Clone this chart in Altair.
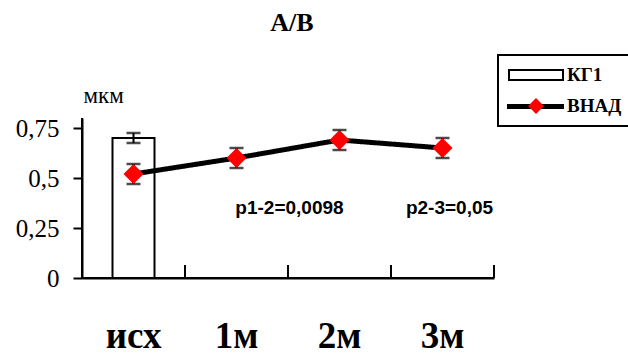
import altair as alt
import pandas as pd

# ---- data ----
categories = ["исх", "1м", "2м", "3м"]
series_names = ["КГ1", "ВНАД"]
kg1_category = ["исх"]
kg1_values = [0.70]
kg1_errors = [0.025]
vnad_values = [0.52, 0.60, 0.69, 0.65]
vnad_errors = [0.05, 0.05, 0.05, 0.05]
y_ticks = [0, 0.25, 0.5, 0.75]
p12_label = ["p1-2=0,0098"]
p12_category = ["2м"]
p12_y = [0.35]
p23_label = ["p2-3=0,05"]
p23_category = ["3м"]
p23_y = [0.35]
title_text = "A/B"
unit_text = "мкм"

kg1 = pd.DataFrame({
    "cat": kg1_category,
    "value": kg1_values,
    "lo": [v - e for v, e in zip(kg1_values, kg1_errors)],
    "hi": [v + e for v, e in zip(kg1_values, kg1_errors)],
    "series": series_names[0],
})
vnad = pd.DataFrame({
    "cat": categories,
    "value": vnad_values,
    "lo": [v - e for v, e in zip(vnad_values, vnad_errors)],
    "hi": [v + e for v, e in zip(vnad_values, vnad_errors)],
    "series": series_names[1],
})
cats = pd.DataFrame({"cat": categories})
frame = pd.DataFrame({"cat": categories[:1]})
p12 = pd.DataFrame({"cat": p12_category, "value": p12_y, "label": p12_label})
p23 = pd.DataFrame({"cat": p23_category, "value": p23_y, "label": p23_label})

SERIF = "Liberation Serif"
SANS = "Liberation Sans"

xscale = alt.Scale(domain=categories, paddingInner=0, paddingOuter=0)
yscale = alt.Scale(domain=[0, 0.8], nice=False)

RECT_PATH = "M-2.7,-0.5H2.7V0.5H-2.7Z"
DIAMOND_PATH = "M0,-0.65L0.65,0L0,0.65L-0.65,0Z"

y_axis = alt.Axis(
    values=y_ticks, labelExpr="replace(format(datum.value, '.2~f'), '.', ',')",
    labelFont=SERIF, labelFontSize=25, labelColor="black", tickSize=9,
    tickWidth=2, tickColor="black", tickOpacity=1, domain=True, domainColor="black",
    domainWidth=2, domainOpacity=1,
    labelPadding=14, grid=False, title=unit_text, titleAngle=0, titleX=1,
    titleY=-23, titleAlign="left", titleBaseline="middle", titleFont=SERIF,
    titleFontSize=23, titleFontWeight="normal", titleColor="black")

x_axis = alt.Axis(
    title=None, labelFont=SERIF, labelFontSize=37, labelFontWeight="bold",
    labelColor="black", labelAngle=0, ticks=False, domain=True, domainColor="black",
    domainWidth=2, domainOpacity=1, labelPadding=69, labelBaseline="alphabetic", grid=False)

legend_a = alt.Legend(
    orient="none", legendX=416, legendY=-63, title=None,
    symbolSize=400, padding=9, rowPadding=10,
    strokeColor="black", fillColor="transparent",
    labelFont=SERIF, labelFontSize=19, labelFontWeight="bold", labelColor="black",
    symbolOffset=18, labelOffset=20, symbolStrokeWidth=2, labelLimit=1000,
    zindex=2,
)
fill_enc = alt.Fill("series:N", scale=alt.Scale(domain=series_names, range=["white", "red"]), legend=legend_a)
stroke_enc = alt.Stroke("series:N", scale=alt.Scale(domain=series_names, range=["black", "red"]), legend=legend_a)
shape_enc = alt.Shape("series:N", scale=alt.Scale(domain=series_names, range=[RECT_PATH, DIAMOND_PATH]), legend=legend_a)

x_enc = alt.X("cat:N", scale=xscale, sort=categories, axis=x_axis)
y_val = alt.Y("value:Q", scale=yscale, axis=y_axis)
y_lo = alt.Y("lo:Q", scale=yscale, axis=y_axis)
y_hi = alt.Y("hi:Q", scale=yscale, axis=y_axis)

# axis lines of the plot frame (left and bottom edges)
y_line = alt.Chart(frame).mark_rule(color="black", strokeWidth=2).encode(
    x=alt.value(0), y=alt.value(0), y2=alt.value("height"))
x_line = alt.Chart(frame).mark_rule(color="black", strokeWidth=2).encode(
    y=alt.value("height"), x=alt.value(0), x2=alt.value("width"))

bar = alt.Chart(kg1).mark_bar(size=42, strokeWidth=2).encode(
    x=x_enc, y=y_val, fill=fill_enc, stroke=stroke_enc)

# inner tick marks on the category boundaries of the x axis
xticks = alt.Chart(cats).mark_rule(color="black", strokeWidth=2).encode(
    x=alt.X("cat:N", scale=xscale, sort=categories, axis=x_axis, bandPosition=1),
    y=alt.value("height"),
    y2=alt.value(alt.ExprRef(expr="height - 13")),
)

kg1_rule = alt.Chart(kg1).mark_rule(color="black", strokeWidth=2).encode(
    x=x_enc, y=y_lo, y2="hi:Q")
kg1_lo = alt.Chart(kg1).mark_tick(color="black", size=14, thickness=2.5).encode(
    x=x_enc, y=y_lo)
kg1_hi = alt.Chart(kg1).mark_tick(color="black", size=14, thickness=2.5).encode(
    x=x_enc, y=y_hi)

line = alt.Chart(vnad).mark_line(color="black", strokeWidth=5).encode(
    x=x_enc, y=y_val,
    strokeDash=alt.StrokeDash("series:N", scale=alt.Scale(domain=[series_names[1]], range=[[1, 0]]),
                              legend=alt.Legend(orient="none", legendX=425, legendY=-24, title=None,
                                                symbolType="M-2.85,0H2.85", symbolSize=400,
                                                symbolStrokeWidth=5, symbolStrokeColor="black",
                                                labelExpr="''", padding=0, symbolOffset=16, zindex=1)),
)

v_rule = alt.Chart(vnad).mark_rule(color="black", strokeWidth=2).encode(
    x=x_enc, y=y_lo, y2="hi:Q")
v_lo = alt.Chart(vnad).mark_tick(color="black", size=14, thickness=2.5).encode(
    x=x_enc, y=y_lo)
v_hi = alt.Chart(vnad).mark_tick(color="black", size=14, thickness=2.5).encode(
    x=x_enc, y=y_hi)

points = alt.Chart(vnad).mark_point(filled=True, size=950, opacity=1).encode(
    x=x_enc, y=y_val, fill=fill_enc, shape=shape_enc)

t12 = alt.Chart(p12).mark_text(font=SANS, fontSize=19, fontWeight="bold", color="black", dx=-50).encode(
    x=x_enc, y=y_val, text="label:N")
t23 = alt.Chart(p23).mark_text(font=SANS, fontSize=19, fontWeight="bold", color="black", dx=7).encode(
    x=x_enc, y=y_val, text="label:N")

chart = alt.layer(
    bar, xticks, y_line, x_line, kg1_rule, kg1_lo, kg1_hi, line, v_rule, v_lo, v_hi, points, t12, t23
).properties(
    width=412, height=160,
    autosize=alt.AutoSizeParams(type="none"),
    padding={"left": 82, "top": 118, "right": 134, "bottom": 78},
    title=alt.Title(title_text, font=SERIF, fontSize=26, fontWeight="bold",
                    color="black", anchor="middle", frame="group", offset=18, dx=4),
).configure_view(stroke=None).configure_legend(strokeWidth=2)

chart.save("out.html", embed_options={"renderer": "svg", "actions": False})
